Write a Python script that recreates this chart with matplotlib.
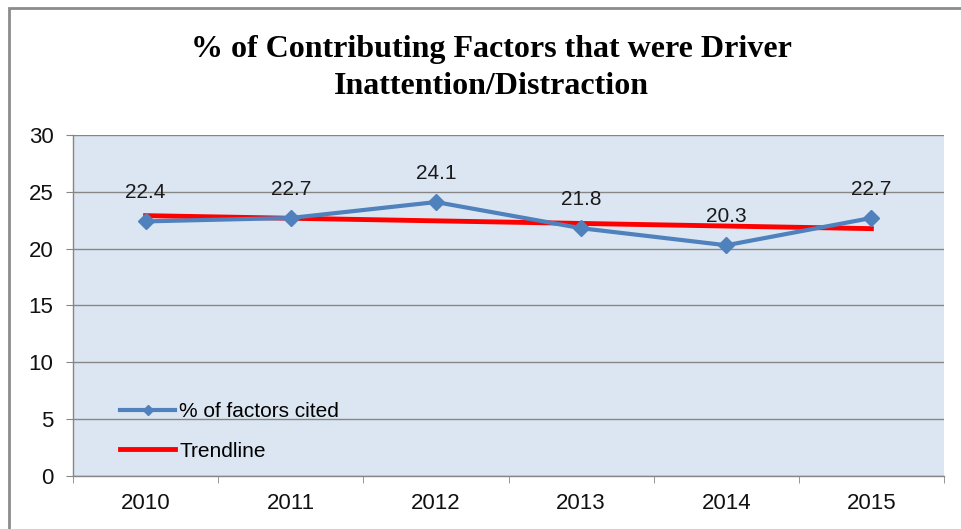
import numpy as np
import matplotlib
matplotlib.use('Agg')
import matplotlib.pyplot as plt
from matplotlib.patches import Rectangle

years = ['2010', '2011', '2012', '2013', '2014', '2015']
pct_cited = [22.4, 22.7, 24.1, 21.8, 20.3, 22.7]
y_ticks = [0, 5, 10, 15, 20, 25, 30]

title = '% of Contributing Factors that were Driver\nInattention/Distraction'

x = np.arange(len(years))
# linear trendline from the data
slope, icpt = np.polyfit(x, pct_cited, 1)
trend = slope * x + icpt

fig = plt.figure(figsize=(9.61, 5.29), dpi=100)
ax = fig.add_axes([0.076, 0.1002, 0.9063, 0.6446])
ax.set_facecolor('#DCE6F2')

# outer chart frame (cut off at right/bottom)
fig.add_artist(Rectangle((9 / 961, -0.2), 1.2, 1.2 - 8 / 529,
                         transform=fig.transFigure, fill=False,
                         edgecolor='#8C8C8C', linewidth=2))

ax.plot(x, pct_cited, color='#4F81BD', linewidth=3, marker='D', markersize=8,
        label='% of factors cited', zorder=4)
ax.plot(x, trend, color='#FF0000', linewidth=3.5, label='Trendline', zorder=3)

for xi, v in zip(x, pct_cited):
    ax.annotate(f'{v:.1f}', (xi, v), xytext=(0, 14), textcoords='offset points',
                ha='center', va='bottom', fontsize=15, family='Liberation Sans',
                color='#1a1a1a', zorder=5)

ax.set_ylim(0, 30)
ax.set_xlim(-0.5, len(years) - 0.5)
ax.set_yticks(y_ticks)
ax.grid(axis='y', color='#868686', linewidth=1)
ax.set_axisbelow(True)

ax.set_xticks(x)
ax.set_xticklabels(years)
ax.set_xticks(np.arange(-0.5, len(years)), minor=True)
ax.tick_params(axis='x', which='major', length=0, pad=12)
ax.tick_params(axis='x', which='minor', length=5, color='#868686', direction='out')
ax.tick_params(axis='y', length=5, color='#868686', direction='out', pad=9)
for lab in ax.get_xticklabels() + ax.get_yticklabels():
    lab.set_fontsize(16)
    lab.set_family('Liberation Sans')
    lab.set_color('#111111')

for side in ['top', 'right']:
    ax.spines[side].set_visible(False)
for side in ['left', 'bottom']:
    ax.spines[side].set_color('#868686')
    ax.spines[side].set_linewidth(1)

leg = ax.legend(loc='lower left', bbox_to_anchor=(0.054, 0.045), frameon=False,
                borderpad=0, borderaxespad=0, markerscale=0.7,
                handlelength=2.65, handletextpad=0.2, labelspacing=1.0,
                prop={'family': 'Liberation Sans', 'size': 15})

fig.text(0.511, 0.871, title, ha='center', va='center', fontsize=23,
         fontweight='bold', family='Liberation Serif', linespacing=1.35)

fig.savefig('out.png', dpi=100)
